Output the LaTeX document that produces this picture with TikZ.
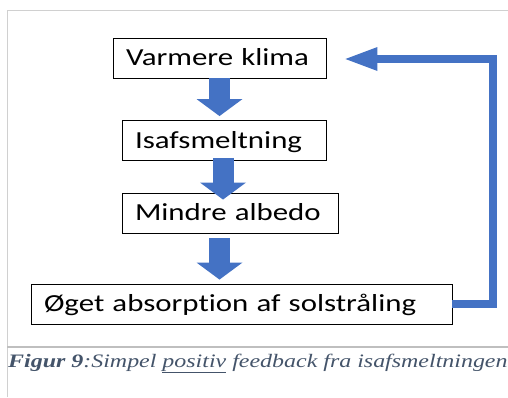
\documentclass[tikz,border=0pt]{standalone}
\usepackage{fontspec}
\usetikzlibrary{arrows.meta,calc}
\setmainfont{Carlito}[FakeStretch=1.26,Ligatures=NoCommon]
\newfontfamily\capfont{Liberation Serif}[FakeStretch=1.26]
\definecolor{flowblue}{HTML}{4472C4}
\definecolor{capcol}{HTML}{44546A}
\definecolor{framegray}{HTML}{D0D0D0}
\definecolor{rulegray}{HTML}{BFBFBF}
\begin{document}
\begin{tikzpicture}[x=1pt,y=-1pt,
  flowbox/.style={draw=black, line width=0.9pt, fill=white, minimum height=40pt,
    inner xsep=13pt, inner ysep=0pt, text height=19.5pt, text depth=4.5pt,
    align=left, font=\fontsize{24.5}{28}\selectfont},
  blockarrow/.style={draw=flowblue, line width=21pt,
    -{Triangle[width=46pt,length=17pt,line width=0pt]}},
  feedback/.style={draw=flowblue, line width=8pt, line join=miter,
    -{Triangle[width=24pt,length=32pt,line width=0pt]}}]
\useasboundingbox (0,0) rectangle (508,397);
\fill[white] (0,0) rectangle (508,397);

% frame of the figure and caption rule
\draw[framegray, line width=1pt] (7,397) -- (7,10) -- (508,10);
\draw[rulegray, line width=1.6pt] (7,347) -- (508,347);

% boxes of the feedback loop
\node[flowbox, text width=187pt] (klima)  at (219.5,58)  {Varmere klima};
\node[flowbox, text width=178pt] (isaf)   at (224,140.5) {Isafsmeltning};
\node[flowbox, text width=190pt] (mindre) at (230,213)   {Mindre albedo};
\node[flowbox, text width=395pt] (abs)    at (241.5,304) {Øget absorption af solstråling};

% block arrows between the steps
\draw[blockarrow] (klima.south) -- ($(klima.south |- isaf.north)+(0,-4)$);
\draw[blockarrow] ($(isaf.south)+(-1,-3)$) -- ($(isaf.south |- mindre.north)+(-1,7)$);
\draw[blockarrow] ($(mindre.south)+(-10.5,5)$) -- ($(mindre.south |- abs.north)+(-10.5,-4)$);

% return path back to the top
\coordinate (fbx) at (493,0);
\coordinate (fbtip) at ($(klima.east)+(19,1)$);
\draw[feedback] (abs.east) -- (abs.east -| fbx) |- (fbtip);

% caption
\node[anchor=base west, inner sep=0pt, text=capcol,
  font=\capfont\fontsize{19}{22}\selectfont\itshape] (cap) at (8,367)
  {{\bfseries Figur 9}:Simpel \underline{positiv} feedback fra isafsmeltningen};
\end{tikzpicture}
\end{document}
